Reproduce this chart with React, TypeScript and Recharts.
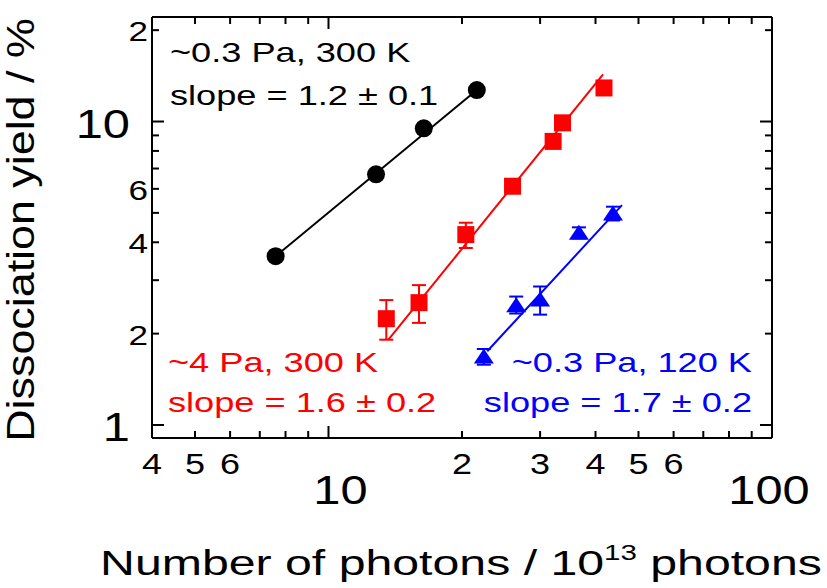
import React from 'react';
import { ComposedChart, XAxis, YAxis, Scatter, Line, ErrorBar } from 'recharts';

const FONT = "'Liberation Sans', Arial, sans-serif";

// ~0.3 Pa, 300 K (black circles)
const blackX = [7.6, 12.8, 16.4, 21.6];
const blackY = [3.6, 6.7, 9.5, 12.7];
const blackFitX = [7.6, 21.6];
const blackFitY = [3.6, 12.7];

// ~4 Pa, 300 K (red squares)
const redX = [13.5, 16.0, 20.4, 26.0, 32.1, 33.7, 41.8];
const redY = [2.24, 2.53, 4.24, 6.12, 8.6, 9.9, 12.9];
const redErrLow = [0.33, 0.36, 0.41, 0.25, 0.25, 0.3, 0.35];
const redErrHigh = [0.34, 0.36, 0.4, 0.25, 0.25, 0.3, 0.35];
const redFitX = [13.65, 41.6];
const redFitY = [1.91, 14.3];

// ~0.3 Pa, 120 K (blue triangles)
const blueX = [22.4, 26.5, 30.0, 36.7, 43.8];
const blueY = [1.68, 2.48, 2.59, 4.3, 4.98];
const blueErrLow = [0.1, 0.15, 0.28, 0.18, 0.26];
const blueErrHigh = [0.1, 0.17, 0.27, 0.18, 0.26];
const blueFitX = [22.8, 45.9];
const blueFitY = [1.75, 5.3];

const xTicks = [4, 5, 6, 7, 8, 9, 10, 20, 30, 40, 50, 60, 70, 80, 90, 100];
const xTickLabels: Record<number, string> = {
  4: '4', 5: '5', 6: '6', 10: '10', 20: '2', 30: '3', 40: '4', 50: '5', 60: '6', 100: '100',
};
const yTicks = [1, 2, 3, 4, 5, 6, 7, 8, 9, 10, 20];
const yTickLabels: Record<number, string> = { 1: '1', 2: '2', 4: '4', 6: '6', 10: '10', 20: '2' };

const isMajor = (v: number) => v === 1 || v === 10 || v === 100;

const pts = (xs: number[], ys: number[], lo?: number[], hi?: number[]) =>
  xs.map((x, i) => ({ x, y: ys[i], err: lo && hi ? [lo[i], hi[i]] : [0, 0] }));

const blackData = pts(blackX, blackY);
const redData = pts(redX, redY, redErrLow, redErrHigh);
const blueData = pts(blueX, blueY, blueErrLow, blueErrHigh);
const blackFit = pts(blackFitX, blackFitY);
const redFit = pts(redFitX, redFitY);
const blueFit = pts(blueFitX, blueFitY);

const Wide = ({ x, y, size, sx = 1.34, fill = '#000', anchor = 'start', rotate, children }: any) => (
  <g transform={`translate(${x},${y})${rotate ? ` rotate(${rotate})` : ''} scale(${sx},1)`}>
    <text x={0} y={0} fontSize={size} fill={fill} textAnchor={anchor} fontFamily={FONT}>
      {children}
    </text>
  </g>
);

const BottomTick = (props: any) => {
  const { x, y, payload } = props;
  const v = payload.value;
  const major = isMajor(v);
  const label = xTickLabels[v];
  const shift = v === 10 ? 12 : v === 100 ? -3 : 0;
  return (
    <g>
      <line x1={x} x2={x} y1={y} y2={y - (major ? 12 : 7)} stroke="#000" strokeWidth={2} />
      {label && (
        <Wide x={x + shift} y={y + (major ? 66 : 36)} size={major ? 40 : 30} sx={major ? 1.22 : 1.2} anchor="middle">
          {label}
        </Wide>
      )}
    </g>
  );
};

const TopTick = (props: any) => {
  const { x, y, payload } = props;
  const major = isMajor(payload.value);
  return <line x1={x} x2={x} y1={y} y2={y + (major ? 12 : 7)} stroke="#000" strokeWidth={2} />;
};

const LeftTick = (props: any) => {
  const { x, y, payload } = props;
  const v = payload.value;
  const major = isMajor(v);
  const label = yTickLabels[v];
  return (
    <g>
      <line x1={x} x2={x + (major ? 12 : 7)} y1={y} y2={y} stroke="#000" strokeWidth={2} />
      {label && (
        <Wide x={x - (major ? 22 : 4)} y={y + (major ? 16 : 11)} size={major ? 40 : 27} sx={major ? 1.22 : 1.3} anchor="end">
          {label}
        </Wide>
      )}
    </g>
  );
};

const RightTick = (props: any) => {
  const { x, y, payload } = props;
  const major = isMajor(payload.value);
  return <line x1={x} x2={x - (major ? 12 : 7)} y1={y} y2={y} stroke="#000" strokeWidth={2} />;
};

const Circle = (p: any) => <circle cx={p.cx} cy={p.cy} r={9} fill="#000" />;
const Square = (p: any) => <rect x={p.cx - 8.5} y={p.cy - 8.5} width={17} height={17} fill="#ff0000" />;
const Tri = (p: any) => (
  <polygon points={`${p.cx},${p.cy - 8} ${p.cx + 10},${p.cy + 7} ${p.cx - 10},${p.cy + 7}`} fill="#0000ff" />
);

const axisLine = { stroke: '#000', strokeWidth: 2 };

export default function App() {
  return (
    <div style={{ position: 'absolute', left: 0, top: 0, width: 827, height: 588, background: '#fff' }}>
      <ComposedChart width={827} height={588} margin={{ top: 16, left: 151, right: 54, bottom: 149 }}>
        <XAxis xAxisId="b" dataKey="x" type="number" scale="log" domain={[4, 100]} allowDataOverflow
          ticks={xTicks} interval={0} height={1} tickSize={0} tickMargin={0} tickLine={false}
          axisLine={axisLine} tick={<BottomTick />} orientation="bottom" />
        <XAxis xAxisId="t" dataKey="x" type="number" scale="log" domain={[4, 100]} allowDataOverflow
          ticks={xTicks} interval={0} height={1} tickSize={0} tickMargin={0} tickLine={false}
          axisLine={axisLine} tick={<TopTick />} orientation="top" />
        <YAxis yAxisId="l" dataKey="y" type="number" scale="log" domain={[0.906, 22.1]} allowDataOverflow
          ticks={yTicks} interval={0} width={1} tickSize={0} tickMargin={0} tickLine={false}
          axisLine={axisLine} tick={<LeftTick />} orientation="left" />
        <YAxis yAxisId="r" dataKey="y" type="number" scale="log" domain={[0.906, 22.1]} allowDataOverflow
          ticks={yTicks} interval={0} width={1} tickSize={0} tickMargin={0} tickLine={false}
          axisLine={axisLine} tick={<RightTick />} orientation="right" />

        <Line data={blackFit} dataKey="y" xAxisId="b" yAxisId="l" type="linear" stroke="#000"
          strokeWidth={2} dot={false} isAnimationActive={false} />
        <Line data={redFit} dataKey="y" xAxisId="b" yAxisId="l" type="linear" stroke="#ff0000"
          strokeWidth={2} dot={false} isAnimationActive={false} />
        <Line data={blueFit} dataKey="y" xAxisId="b" yAxisId="l" type="linear" stroke="#0000ff"
          strokeWidth={2} dot={false} isAnimationActive={false} />

        <Scatter data={blackData} dataKey="y" xAxisId="b" yAxisId="l" shape={Circle} isAnimationActive={false} />
        <Scatter data={redData} dataKey="y" xAxisId="b" yAxisId="l" shape={Square} isAnimationActive={false}>
          <ErrorBar dataKey="err" direction="y" width={7} stroke="#ff0000" strokeWidth={2} />
        </Scatter>
        <Scatter data={blueData} dataKey="y" xAxisId="b" yAxisId="l" shape={Tri} isAnimationActive={false}>
          <ErrorBar dataKey="err" direction="y" width={7} stroke="#0000ff" strokeWidth={2} />
        </Scatter>
      </ComposedChart>

      <svg width={827} height={588} style={{ position: 'absolute', left: 0, top: 0, pointerEvents: 'none' }}>
        <Wide x={170} y={62} size={27}>~0.3 Pa, 300 K</Wide>
        <Wide x={170} y={105} size={27}>slope = 1.2 ± 0.1</Wide>
        <Wide x={168} y={372} size={27} fill="#ff0000">~4 Pa, 300 K</Wide>
        <Wide x={168} y={412} size={27} fill="#ff0000">slope = 1.6 ± 0.2</Wide>
        <Wide x={752} y={372} size={27} fill="#0000ff" anchor="end">~0.3 Pa, 120 K</Wide>
        <Wide x={752} y={412} size={27} fill="#0000ff" anchor="end">slope = 1.7 ± 0.2</Wide>

        <Wide x={34} y={230} size={38} sx={1.18} rotate={-90} anchor="middle">Dissociation yield / %</Wide>
        <g transform="translate(461,575) scale(1.34,1)">
          <text x={0} y={0} fontSize={36} fontFamily={FONT} textAnchor="middle" fill="#000">
            Number of photons / 10<tspan fontSize={22} dy={-15}>13</tspan>
            <tspan dy={15}> photons</tspan>
          </text>
        </g>
      </svg>
    </div>
  );
}
